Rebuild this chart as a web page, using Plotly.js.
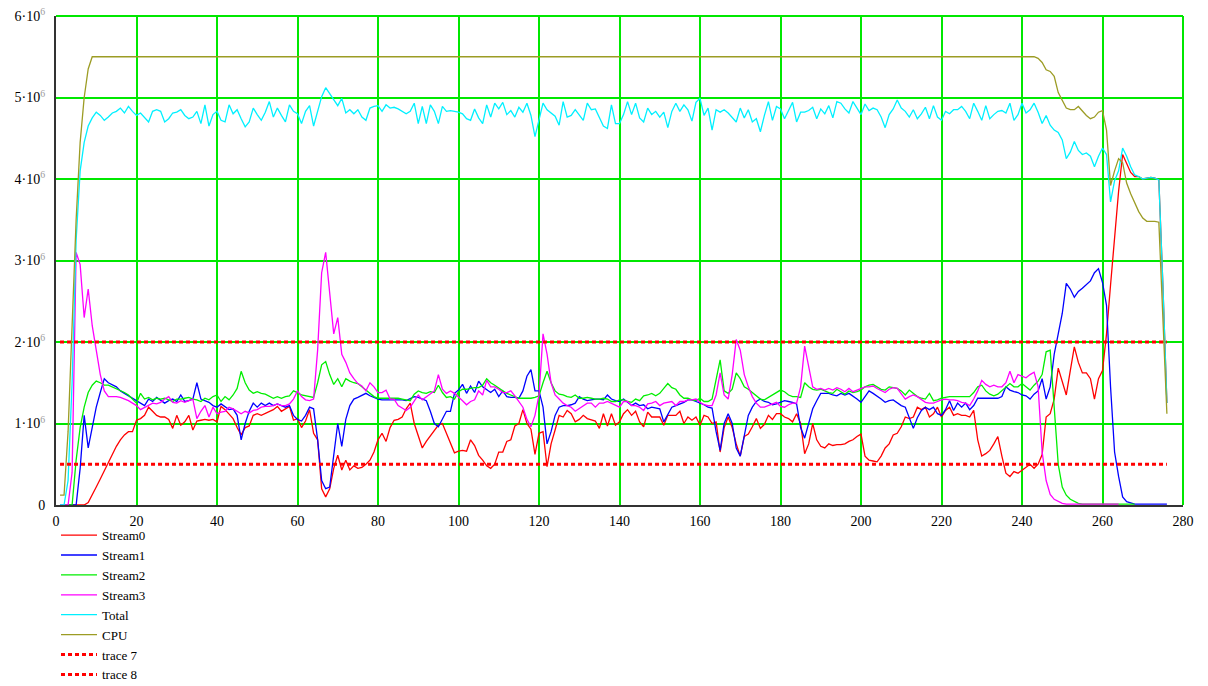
<!DOCTYPE html>
<html>
<head>
<meta charset="utf-8">
<script src="https://cdn.plot.ly/plotly-3.0.1.min.js"></script>
<style>html,body{margin:0;padding:0;background:#fff;}#chart{width:1208px;height:686px;}</style>
</head>
<body>
<div id="chart"></div>
<script>
// values in millions (1e6)
const stream0 = [
0,0,0,0,0,0,0,0.03,0.12,0.22,
0.32,0.42,0.53,0.63,0.72,0.8,0.86,0.9,0.9,1.04,
1.06,1.1,1.2,1.15,1.1,1.08,1.08,1.05,0.94,1.1,
0.98,1.02,1.1,0.92,1.03,1.04,1.05,1.04,1.05,1.02,
1.21,1.17,1.12,1.06,0.95,0.86,0.95,0.97,1.1,1.12,
1.1,1.12,1.15,1.17,1.21,1.15,1.18,1.21,1.04,1.06,
0.95,1.03,1.17,0.88,0.8,0.2,0.1,0.2,0.45,0.61,
0.43,0.55,0.43,0.48,0.45,0.46,0.5,0.55,0.65,0.8,
0.88,0.78,0.95,1.04,1.05,1.08,1.18,1.25,1.0,0.85,
0.7,0.78,0.85,0.92,0.98,1.0,0.88,0.75,0.64,0.66,
0.67,0.66,0.8,0.73,0.61,0.55,0.48,0.45,0.5,0.65,
0.65,0.78,0.8,0.97,1.0,1.17,1.0,0.93,0.62,0.88,
0.9,0.47,0.75,0.92,1.1,1.08,1.16,1.12,1.02,1.05,
1.1,1.06,1.04,1.03,0.94,1.12,0.97,1.12,0.98,1.02,
1.12,1.17,1.1,1.15,1.02,0.96,1.14,1.08,1.08,1.08,
0.98,1.1,1.1,1.1,1.15,1.0,1.08,1.04,1.08,0.98,
1.1,1.08,1.0,1.02,0.65,0.95,1.08,0.95,0.75,0.6,
0.84,0.87,0.96,1.06,0.94,0.99,1.1,1.05,1.12,1.12,
1.08,1.06,1.02,1.12,1.0,0.63,0.75,1.0,0.8,0.72,
0.7,0.75,0.73,0.74,0.74,0.75,0.78,0.8,0.84,0.87,
0.6,0.55,0.54,0.53,0.6,0.7,0.75,0.86,0.88,0.96,
1.08,1.06,1.08,1.2,1.17,1.2,1.08,1.12,1.2,1.08,
1.16,1.2,1.1,1.12,1.1,1.1,1.08,1.16,0.8,0.6,
0.63,0.67,0.75,0.84,0.6,0.39,0.35,0.41,0.39,0.43,
0.47,0.5,0.45,0.5,0.62,1.08,1.12,1.3,1.68,1.5,
1.35,1.65,1.94,1.75,1.62,1.62,1.55,1.3,1.55,1.65,
2.1,2.7,3.3,3.85,4.3,4.2,4.08,4.03,4.03,4.0,
4.01,4.02,4.01,3.99,2.7,1.25
];
const stream1 = [
0,0,0,0,0,0.45,1.1,0.7,0.95,1.2,
1.38,1.55,1.5,1.47,1.45,1.4,1.37,1.33,1.3,1.28,
1.25,1.22,1.3,1.27,1.32,1.28,1.25,1.28,1.3,1.27,
1.35,1.27,1.28,1.3,1.5,1.3,1.28,1.26,1.22,1.2,
1.24,1.2,1.17,1.18,1.1,0.8,1.0,1.15,1.25,1.2,
1.25,1.22,1.25,1.22,1.24,1.22,1.2,1.22,1.1,1.05,
1.03,1.1,1.2,1.18,0.8,0.3,0.2,0.22,0.6,1.0,
0.72,1.05,1.22,1.3,1.32,1.34,1.37,1.34,1.32,1.3,
1.29,1.29,1.29,1.29,1.29,1.29,1.28,1.3,1.33,1.32,
1.3,1.28,1.15,1.0,0.96,1.05,1.15,1.15,1.37,1.41,
1.48,1.37,1.46,1.38,1.52,1.45,1.42,1.38,1.42,1.33,
1.4,1.33,1.32,1.32,1.31,1.4,1.58,1.66,1.4,1.4,
1.2,0.75,0.9,1.1,1.2,1.22,1.22,1.23,1.25,1.33,
1.3,1.28,1.29,1.3,1.3,1.29,1.35,1.3,1.28,1.27,
1.3,1.26,1.22,1.25,1.22,1.23,1.18,1.2,1.19,1.18,
1.02,1.12,1.2,1.22,1.24,1.26,1.29,1.29,1.27,1.25,
1.23,1.2,1.19,0.9,0.67,1.0,1.12,1.0,0.7,0.6,
0.85,1.1,1.2,1.27,1.3,1.27,1.26,1.23,1.24,1.26,
1.28,1.27,1.26,1.24,0.95,0.82,1.0,1.18,1.28,1.37,
1.37,1.37,1.35,1.34,1.37,1.35,1.37,1.34,1.3,1.26,
1.33,1.4,1.37,1.34,1.3,1.26,1.28,1.29,1.25,1.22,
1.2,1.08,0.94,1.07,1.16,1.2,1.17,1.2,1.12,1.1,
1.17,1.28,1.16,1.25,1.2,1.25,1.17,1.22,1.31,1.31,
1.31,1.31,1.31,1.31,1.33,1.45,1.41,1.39,1.38,1.35,
1.34,1.3,1.36,1.4,1.55,1.3,1.45,1.85,2.1,2.35,
2.72,2.65,2.55,2.62,2.66,2.7,2.75,2.85,2.9,2.73,
2.45,1.45,0.65,0.35,0.1,0.04,0.02,0.01,0.01,0.01,
0.01,0.01,0.01,0.01,0.01,0.01
];
const stream2 = [
0,0,0,0,0.55,0.95,1.2,1.38,1.47,1.52,
1.5,1.47,1.47,1.45,1.42,1.4,1.38,1.35,1.3,1.25,
1.37,1.3,1.32,1.29,1.31,1.3,1.31,1.29,1.27,1.3,
1.3,1.31,1.32,1.3,1.29,1.27,1.31,1.29,1.33,1.35,
1.27,1.33,1.29,1.35,1.43,1.64,1.5,1.41,1.37,1.39,
1.37,1.36,1.33,1.31,1.33,1.31,1.33,1.34,1.4,1.38,
1.35,1.34,1.33,1.32,1.5,1.72,1.76,1.6,1.48,1.55,
1.45,1.55,1.52,1.5,1.49,1.45,1.4,1.36,1.33,1.31,
1.31,1.31,1.31,1.31,1.31,1.3,1.29,1.28,1.36,1.4,
1.38,1.37,1.39,1.38,1.47,1.38,1.32,1.33,1.3,1.39,
1.42,1.42,1.43,1.44,1.44,1.47,1.55,1.5,1.47,1.43,
1.4,1.37,1.35,1.33,1.31,1.31,1.31,1.31,1.32,1.34,
1.5,1.64,1.5,1.4,1.36,1.35,1.33,1.32,1.35,1.31,
1.31,1.32,1.31,1.3,1.3,1.31,1.3,1.27,1.27,1.29,
1.29,1.27,1.26,1.3,1.28,1.34,1.35,1.37,1.34,1.37,
1.43,1.49,1.44,1.42,1.35,1.31,1.31,1.29,1.28,1.31,
1.27,1.27,1.3,1.55,1.78,1.4,1.37,1.42,1.62,1.55,
1.45,1.42,1.38,1.33,1.3,1.29,1.32,1.35,1.38,1.41,
1.39,1.35,1.33,1.33,1.32,1.5,1.45,1.42,1.41,1.42,
1.4,1.38,1.37,1.42,1.39,1.36,1.4,1.38,1.39,1.41,
1.45,1.47,1.48,1.45,1.42,1.41,1.45,1.44,1.43,1.4,
1.35,1.41,1.37,1.33,1.31,1.3,1.37,1.28,1.29,1.31,
1.32,1.33,1.33,1.33,1.33,1.33,1.33,1.38,1.45,1.47,
1.4,1.36,1.34,1.36,1.4,1.45,1.49,1.45,1.45,1.49,
1.45,1.41,1.47,1.52,1.6,1.88,1.9,1.2,0.5,0.22,
0.12,0.07,0.04,0.02,0.01,0.01,0.01,0.01,0.01,0.01,
0.01,0.01,0.01,0.01,0.01,0.01,0.01,0.01
];
const stream3 = [
0,0,0,0.4,3.1,2.95,2.3,2.65,2.2,1.9,
1.6,1.4,1.33,1.33,1.33,1.32,1.3,1.28,1.25,1.22,
1.17,1.2,1.22,1.25,1.24,1.26,1.3,1.33,1.26,1.25,
1.28,1.26,1.28,1.3,1.06,1.15,1.22,1.08,1.2,1.12,
1.14,1.15,1.2,1.18,1.15,1.12,1.15,1.13,1.16,1.17,
1.2,1.21,1.21,1.22,1.24,1.22,1.22,1.24,1.3,1.4,
1.33,1.29,1.28,1.3,1.9,2.85,3.1,2.6,2.1,2.3,
1.85,1.75,1.62,1.55,1.49,1.46,1.4,1.5,1.45,1.38,
1.38,1.41,1.3,1.3,1.22,1.19,1.16,1.2,1.28,1.35,
1.29,1.33,1.36,1.4,1.6,1.42,1.37,1.4,1.37,1.33,
1.28,1.23,1.27,1.29,1.4,1.35,1.53,1.45,1.45,1.42,
1.38,1.38,1.4,1.34,1.27,1.2,1.05,0.96,1.1,1.35,
2.1,1.85,1.5,1.35,1.3,1.25,1.22,1.2,1.15,1.18,
1.21,1.25,1.25,1.2,1.25,1.25,1.27,1.25,1.22,1.2,
1.27,1.27,1.22,1.22,1.2,1.16,1.24,1.25,1.27,1.22,
1.25,1.26,1.27,1.22,1.27,1.27,1.29,1.29,1.3,1.26,
1.23,1.22,1.22,1.35,1.62,1.35,1.3,1.6,2.03,1.9,
1.6,1.45,1.33,1.25,1.2,1.2,1.22,1.24,1.26,1.21,
1.2,1.23,1.25,1.25,1.45,1.95,1.7,1.45,1.42,1.43,
1.41,1.43,1.41,1.44,1.42,1.39,1.43,1.39,1.41,1.43,
1.45,1.45,1.46,1.43,1.4,1.38,1.42,1.44,1.43,1.36,
1.3,1.33,1.35,1.33,1.3,1.26,1.25,1.25,1.27,1.29,
1.3,1.29,1.29,1.28,1.26,1.25,1.22,1.3,1.4,1.53,
1.48,1.45,1.47,1.45,1.45,1.5,1.64,1.5,1.6,1.58,
1.56,1.6,1.63,1.45,0.65,0.3,0.13,0.07,0.04,0.02,
0.01,0.01,0.01,0.01,0.01,0.01,0.01,0.01,0.01,0.01,
0.01,0.01,0.01,0.01
];
const total = [
0,0,0.3,1.5,3.25,4.1,4.45,4.65,4.75,4.82,
4.78,4.72,4.76,4.81,4.83,4.87,4.81,4.89,4.83,4.78,
4.81,4.76,4.70,4.83,4.85,4.83,4.70,4.74,4.81,4.82,
4.85,4.78,4.74,4.76,4.83,4.68,4.91,4.65,4.79,4.83,
4.72,4.70,4.91,4.80,4.85,4.74,4.64,4.70,4.87,4.79,
4.72,4.82,4.95,4.76,4.87,4.78,4.70,4.91,4.83,4.80,
4.68,4.83,4.90,4.65,4.82,5.01,5.12,5.05,4.98,4.90,
4.99,4.81,4.85,4.80,4.85,4.76,4.72,4.87,4.89,4.90,
4.83,4.91,4.87,4.88,4.86,4.83,4.80,4.83,4.93,4.68,
4.89,4.68,4.91,4.83,4.68,4.89,4.83,4.84,4.83,4.82,
4.80,4.74,4.72,4.86,4.75,4.68,4.91,4.76,4.93,4.86,
4.94,4.79,4.84,4.76,4.88,4.82,4.93,4.78,4.52,4.72,
4.93,4.85,4.81,4.77,4.66,4.95,4.76,4.78,4.85,4.78,
4.72,4.93,4.85,4.86,4.76,4.65,4.62,4.91,4.68,4.68,
4.79,4.95,4.79,4.93,4.75,4.70,4.87,4.79,4.83,4.76,
4.82,4.63,4.83,4.93,4.83,4.91,4.85,4.71,4.94,4.99,
4.78,4.87,4.60,4.85,4.82,4.85,4.81,4.75,4.70,4.87,
4.75,4.85,4.70,4.74,4.58,4.78,4.95,4.72,4.89,4.86,
4.74,4.84,4.94,4.70,4.82,4.82,4.84,4.88,4.74,4.86,
4.80,4.90,4.75,4.95,4.93,4.86,4.81,4.95,4.87,4.79,
4.92,4.84,4.87,4.85,4.76,4.63,4.79,4.86,4.97,4.87,
4.83,4.76,4.85,4.74,4.80,4.88,4.74,4.90,4.76,4.72,
4.83,4.80,4.85,4.85,4.89,4.83,4.74,4.93,4.83,4.72,
4.90,4.74,4.79,4.83,4.84,4.81,4.93,4.72,4.79,4.93,
4.81,4.85,4.93,4.82,4.68,4.78,4.66,4.6,4.57,4.48,
4.25,4.33,4.46,4.35,4.3,4.32,4.28,4.15,4.28,4.38,
4.3,3.72,3.98,4.1,4.38,4.28,4.15,4.05,4.03,4.0,
4.01,4.02,4.01,3.99,2.7,1.25
];
// CPU is flat between its rise and its fall, so only the readings that change are listed
const cpuX = [1,2,3,4,5,6,7,8,9,
243,244,245,246,247,248,249,250,251,252,253,254,255,256,257,258,259,260,
261,262,263,264,265,266,267,268,269,270,271,272,273,274,275,276];
const cpu = [0.12,0.12,0.9,2.3,3.5,4.45,5.0,5.35,5.5,
5.5,5.48,5.43,5.34,5.32,5.26,5.06,4.96,4.87,4.85,4.85,4.89,4.83,4.78,4.74,4.76,4.82,4.84,
4.6,3.92,4.1,4.25,4.2,3.95,3.82,3.7,3.6,3.52,3.48,3.48,3.48,3.47,2.3,1.12];
const trace7X = [1, 276], trace7 = [2, 2];
const trace8X = [1, 276], trace8 = [0.5, 0.5];

const xTickVals = [0,20,40,60,80,100,120,140,160,180,200,220,240,260,280];
const yTickVals = [0,1e6,2e6,3e6,4e6,5e6,6e6];
const supStyle = "<sup><span style='color:#9a9a9a'>6</span></sup>";
const yTickText = ["0","1·10"+supStyle,"2·10"+supStyle,"3·10"+supStyle,"4·10"+supStyle,"5·10"+supStyle,"6·10"+supStyle];

const M = 1e6;
const idx = arr => arr.map((_, i) => i + 1);
const scale = arr => arr.map(v => v * M);

function lineTrace(name, xs, ys, color, width, dash) {
  return {type:'scatter', mode:'lines', name:name, x:xs, y:scale(ys),
    line:{color:color, width:width, dash:dash || 'solid'}, hoverinfo:'skip'};
}

const traces = [
  lineTrace('Stream0', idx(stream0), stream0, '#ff0000', 1.3),
  lineTrace('Stream1', idx(stream1), stream1, '#0000ff', 1.3),
  lineTrace('Stream2', idx(stream2), stream2, '#00ee00', 1.3),
  lineTrace('Stream3', idx(stream3), stream3, '#ff00ff', 1.3),
  lineTrace('Total', idx(total), total, '#00f0ff', 1.3),
  lineTrace('CPU', cpuX, cpu, '#9c9c24', 1.3),
  lineTrace('trace 7', trace7X, trace7, '#ff0000', 3, '4px,3px'),
  lineTrace('trace 8', trace8X, trace8, '#ff0000', 3, '4px,3px')
];

const gridColor = '#00e800';
const layout = {
  width:1208, height:686,
  margin:{l:56, r:25, t:16, b:181, pad:0, autoexpand:false},
  paper_bgcolor:'#ffffff', plot_bgcolor:'#ffffff',
  showlegend:true,
  hovermode:false,
  xaxis:{range:[0,280], tickvals:xTickVals, ticktext:xTickVals.map(String),
    showgrid:true, gridcolor:gridColor, gridwidth:2, zeroline:false,
    showline:true, linecolor:'#333333', linewidth:2, ticks:'',
    ticklabelstandoff:2,
    tickfont:{family:'Liberation Serif, Times New Roman, serif', size:14, color:'#000'}},
  yaxis:{range:[0,6e6], tickvals:yTickVals, ticktext:yTickText,
    showgrid:true, gridcolor:gridColor, gridwidth:2, zeroline:false,
    showline:true, linecolor:'#333333', linewidth:2, ticks:'',
    ticklabelstandoff:6,
    tickfont:{family:'Liberation Serif, Times New Roman, serif', size:14, color:'#000'}},
  legend:{x:0, y:-0.031, xanchor:'left', yanchor:'top', orientation:'v',
    bgcolor:'rgba(0,0,0,0)', borderwidth:0, traceorder:'normal', itemwidth:36,
    font:{family:'Liberation Serif, Times New Roman, serif', size:13, color:'#000'}},
  shapes:[
    {type:'line', xref:'paper', yref:'paper', x0:0, x1:1, y0:1, y1:1, line:{color:gridColor, width:2}},
    {type:'line', xref:'paper', yref:'paper', x0:1, x1:1, y0:0, y1:1, line:{color:gridColor, width:2}}
  ]
};

Plotly.newPlot('chart', traces, layout, {displayModeBar:false, staticPlot:true});
</script>
</body>
</html>
